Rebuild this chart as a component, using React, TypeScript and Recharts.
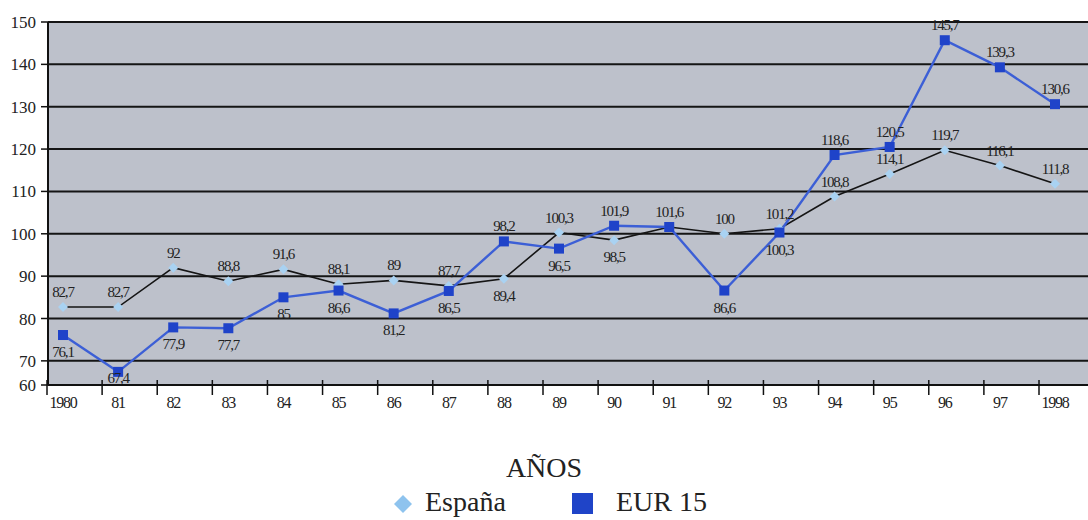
import { LineChart, Line, XAxis, YAxis, CartesianGrid, LabelList } from "recharts";

const years = ["1980", "81", "82", "83", "84", "85", "86", "87", "88", "89", "90", "91", "92", "93", "94", "95", "96", "97", "1998"];
const espana = [82.7, 82.7, 92, 88.8, 91.6, 88.1, 89, 87.7, 89.4, 100.3, 98.5, 101.6, 100, 101.2, 108.8, 114.1, 119.7, 116.1, 111.8];
const eur15 = [76.1, 67.4, 77.9, 77.7, 85, 86.6, 81.2, 86.5, 98.2, 96.5, 101.9, 101.6, 86.6, 100.3, 118.6, 120.5, 145.7, 139.3, 130.6];
const yTickValues = [60, 70, 80, 90, 100, 110, 120, 130, 140, 150];

// the printed axis is squeezed at the bottom: "60" sits where ~64.3 would be
const Y_FLOOR = 64.3;

const data = years.map((year, i) => ({ year, espana: espana[i], eur15: eur15[i] }));

const SERIF = '"Liberation Serif", "DejaVu Serif", serif';
const fmt = (v: number) => String(v).replace(".", ",");

const XTick = ({ x, y, payload }: any) => (
  <g>
    <line x1={x - 16} x2={x - 16} y1={y - 7} y2={y + 8} stroke="#111" strokeWidth={1.5} />
    <text x={x} y={y + 21} textAnchor="middle" fontFamily={SERIF} fontSize={16} letterSpacing={-1.2} fill="#222">
      {payload.value}
    </text>
  </g>
);

const Diamond = ({ cx, cy }: any) => (
  <polygon
    points={`${cx},${cy - 5} ${cx + 5},${cy} ${cx},${cy + 5} ${cx - 5},${cy}`}
    fill="#a9d2f2"
  />
);

const Square = ({ cx, cy }: any) => <rect x={cx - 5} y={cy - 5} width={10} height={10} fill="#1f43c9" />;

const makeLabel = (own: number[], other: number[], skipTies: boolean) => (props: any) => {
  const { x, y, index } = props;
  const v = own[index];
  if (skipTies && v === other[index]) return null;
  const below = v < other[index] && index < 14;
  return (
    <text
      x={x}
      y={below ? Math.min(y + 22, 383) : y - 10}
      textAnchor="middle"
      fontFamily={SERIF}
      fontSize={15}
      letterSpacing={-1.2}
      fill="#222"
    >
      {fmt(v)}
    </text>
  );
};

export default function App() {
  return (
    <div style={{ position: "absolute", left: 0, top: 0, width: 1088, height: 520, background: "#fff", fontFamily: SERIF }}>
      <LineChart width={1088} height={415} data={data} margin={{ top: 22, right: 0, left: 0, bottom: 0 }}>
        <CartesianGrid vertical={false} fill="#bdc1cb" stroke="#151515" strokeWidth={2} />
        <XAxis
          dataKey="year"
          height={30}
          padding={{ left: 15, right: 33 }}
          tickLine={false}
          tickSize={0}
          axisLine={{ stroke: "#111", strokeWidth: 2 }}
          tick={<XTick />}
          interval={0}
        />
        <YAxis
          width={48}
          domain={[Y_FLOOR, 150]}
          ticks={yTickValues.map((v) => (v === 60 ? Y_FLOOR : v))}
          tickFormatter={(v: number) => (v === Y_FLOOR ? "60" : String(v))}
          interval={0}
          tickSize={7}
          tickMargin={5}
          tickLine={{ stroke: "#111", strokeWidth: 1.5 }}
          axisLine={{ stroke: "#111", strokeWidth: 2 }}
          tick={{ fontFamily: SERIF, fontSize: 17, fill: "#222" }}
          allowDataOverflow
        />
        <Line
          dataKey="espana"
          type="linear"
          stroke="#151515"
          strokeWidth={1.6}
          dot={<Diamond />}
          activeDot={false}
          isAnimationActive={false}
        >
          <LabelList dataKey="espana" content={makeLabel(espana, eur15, false)} />
        </Line>
        <Line
          dataKey="eur15"
          type="linear"
          stroke="#3c5fd6"
          strokeWidth={2.4}
          dot={<Square />}
          activeDot={false}
          isAnimationActive={false}
        >
          <LabelList dataKey="eur15" content={makeLabel(eur15, espana, true)} />
        </Line>
      </LineChart>
      <div style={{ position: "absolute", left: 0, width: 1088, top: 452, textAlign: "center", fontSize: 28, color: "#222" }}>
        AÑOS
      </div>
      <div style={{ position: "absolute", left: 0, top: 486, width: 1088, height: 34, fontSize: 28, color: "#222" }}>
        <svg style={{ position: "absolute", left: 393, top: 8 }} width={20} height={20}>
          <polygon points="10,1 19,10 10,19 1,10" fill="#8ec3ee" />
        </svg>
        <span style={{ position: "absolute", left: 425, top: 0 }}>España</span>
        <svg style={{ position: "absolute", left: 572, top: 7 }} width={21} height={21}>
          <rect x={0} y={0} width={21} height={21} fill="#1f44c8" />
        </svg>
        <span style={{ position: "absolute", left: 616, top: 0 }}>EUR 15</span>
      </div>
    </div>
  );
}
